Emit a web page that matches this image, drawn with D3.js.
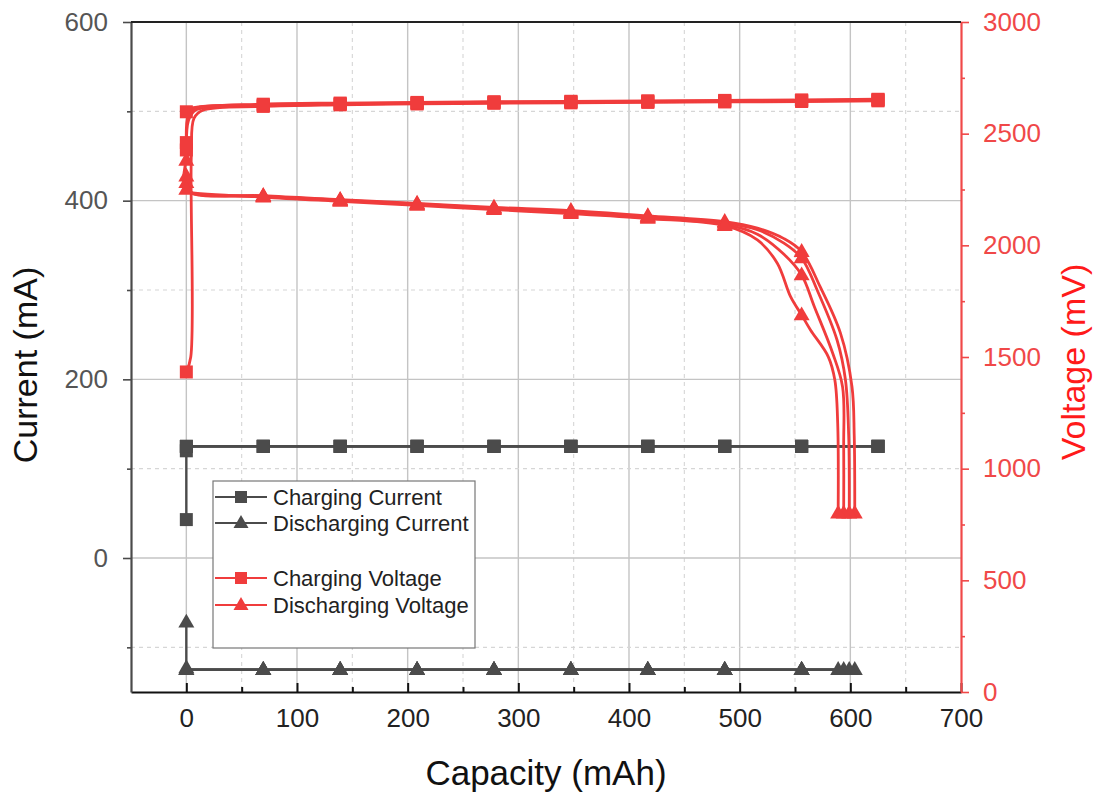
<!DOCTYPE html>
<html>
<head>
<meta charset="utf-8">
<script src="https://cdn.jsdelivr.net/npm/d3@7"></script>
<style>
  body { margin: 0; background: #fff; }
  svg { display: block; font-family: Arial, "Liberation Sans", sans-serif; }
</style>
</head>
<body>
<div id="chart-area"></div>
<script>
// plot box in page pixels
const MARGIN = { LEFT: 131, RIGHT: 139, TOP: 22, BOTTOM: 104 }
const W = 1100, H = 796

// tick values
const xMajorTicks = [0, 100, 200, 300, 400, 500, 600, 700]
const xMinorTicks = [50, 150, 250, 350, 450, 550, 650]
const currentTicks = [0, 200, 400, 600]
const currentMinorTicks = [-100, 100, 300, 500]
const voltageTicks = [0, 500, 1000, 1500, 2000, 2500, 3000]
const voltageMinorTicks = [250, 750, 1250, 1750, 2250, 2750]

// [capacity mAh, value, marker shown]
// charging current (mA), four cycles
const chargeCurrent1 = [[0,43,1],[0,125,0],[69.5,125,1],[139,125,1],[208.5,125,1],[278,125,1],[347.5,125,1],[417,125,1],[486.5,125,1],[556,125,1],[625,125,1]]
const chargeCurrent2 = [[0,120,1],[0,125,0],[69.5,125,1],[139,125,1],[208.5,125,1],[278,125,1],[347.5,125,1],[417,125,1],[486.5,125,1],[556,125,1],[625,125,1]]
const chargeCurrent3 = [[0,125,1],[69.5,125,1],[139,125,1],[208.5,125,1],[278,125,1],[347.5,125,1],[417,125,1],[486.5,125,1],[556,125,1],[625,125,1]]
const chargeCurrent4 = [[0,125,1],[69.5,125,1],[139,125,1],[208.5,125,1],[278,125,1],[347.5,125,1],[417,125,1],[486.5,125,1],[556,125,1],[625,125,1]]

// discharging current (mA)
const dischargeCurrent1 = [[0,-72,1],[0,-125,0],[69.5,-125,1],[139,-125,1],[208.5,-125,1],[278,-125,1],[347.5,-125,1],[417,-125,1],[486.5,-125,1],[556,-125,1],[604,-125,1]]
const dischargeCurrent2 = [[0,-123,1],[0,-125,0],[69.5,-125,1],[139,-125,1],[208.5,-125,1],[278,-125,1],[347.5,-125,1],[417,-125,1],[486.5,-125,1],[556,-125,1],[599,-125,1]]
const dischargeCurrent3 = [[0,-125,1],[69.5,-125,1],[139,-125,1],[208.5,-125,1],[278,-125,1],[347.5,-125,1],[417,-125,1],[486.5,-125,1],[556,-125,1],[594,-125,1]]
const dischargeCurrent4 = [[0,-125,1],[69.5,-125,1],[139,-125,1],[208.5,-125,1],[278,-125,1],[347.5,-125,1],[417,-125,1],[486.5,-125,1],[556,-125,1],[589,-125,1]]

// charging voltage (mV)
const chargeVoltage1 = [[0,1433,1],[4,1500,0],[4.5,2400,0],[7,2570,0],[15,2605,0],[69.5,2622,1],[139,2629,1],[208.5,2633,1],[278,2636,1],[347.5,2638,1],[417,2640,1],[486.5,2642,1],[556,2644,1],[625,2647,1]]
const chargeVoltage2 = [[0,2427,1],[2,2560,0],[8,2605,0],[20,2616,0],[69.5,2626,1],[139,2632,1],[208.5,2636,1],[278,2639,1],[347.5,2641,1],[417,2643,1],[486.5,2645,1],[556,2647,1],[625,2650,1]]
const chargeVoltage3 = [[0,2460,1],[1.5,2580,0],[6,2610,0],[69.5,2629,1],[139,2634,1],[208.5,2638,1],[278,2641,1],[347.5,2643,1],[417,2645,1],[486.5,2647,1],[556,2649,1],[625,2652,1]]
const chargeVoltage4 = [[0,2598,1],[3,2612,0],[69.5,2632,1],[139,2637,1],[208.5,2640,1],[278,2643,1],[347.5,2645,1],[417,2647,1],[486.5,2649,1],[556,2651,1],[625,2654,1]]

// discharging voltage (mV)
const dischargeVoltage1 = [[0,2380,1],[0,2248,0],[69.5,2222,1],[139,2205,1],[208.5,2188,1],[278,2170,1],[347.5,2155,1],[417,2132,1],[486.5,2106,1],[516,2077,0],[540,2030,0],[556,1972,1],[572.7,1815,0],[591,1608,0],[601.5,1367,0],[603.5,1150,0],[604,800,1]]
const dischargeVoltage2 = [[0,2310,1],[0,2246,0],[69.5,2220,1],[139,2202,1],[208.5,2185,1],[278,2167,1],[347.5,2150,1],[417,2128,1],[486.5,2100,1],[516,2070,0],[540,2010,0],[556,1943,1],[570,1800,0],[588,1576,0],[595.6,1397,0],[598.5,1150,0],[599,800,1]]
const dischargeVoltage3 = [[0,2280,1],[0,2244,0],[69.5,2218,1],[139,2200,1],[208.5,2182,1],[278,2164,1],[347.5,2146,1],[417,2124,1],[486.5,2094,1],[516,2050,0],[540,1960,0],[556,1867,1],[567.5,1725,0],[584,1518,0],[593,1366,0],[594,1100,0],[594,800,1]]
const dischargeVoltage4 = [[0,2250,1],[0,2242,0],[69.5,2216,1],[139,2197,1],[208.5,2179,1],[278,2160,1],[347.5,2142,1],[417,2120,1],[486.5,2088,1],[516,2024,0],[534,1920,0],[546,1770,0],[556,1688,1],[564,1621,0],[580,1502,0],[586,1397,0],[588.6,1200,0],[589,800,1]]

const legendLabels = ["Charging Current", "Discharging Current", "Charging Voltage", "Discharging Voltage"]

const GREY = "#4b4b4b"
const RED = "#f03c3c"

const svg = d3.select("#chart-area").append("svg")
  .attr("width", W)
  .attr("height", H)

// scales
const x = d3.scaleLinear().domain([-50, 700]).range([MARGIN.LEFT, W - MARGIN.RIGHT])
const yCur = d3.scaleLinear().domain([-150, 600]).range([H - MARGIN.BOTTOM, MARGIN.TOP])
const yVol = d3.scaleLinear().domain([0, 3000]).range([H - MARGIN.BOTTOM, MARGIN.TOP])

const plotTop = MARGIN.TOP, plotBottom = H - MARGIN.BOTTOM
const plotLeft = MARGIN.LEFT, plotRight = W - MARGIN.RIGHT

// grid
const grid = svg.append("g")
grid.selectAll(".vmaj").data(xMajorTicks.filter(d => d < 700)).enter().append("line")
  .attr("x1", d => x(d)).attr("x2", d => x(d)).attr("y1", plotTop).attr("y2", plotBottom)
  .attr("stroke", "#c4c4c4").attr("stroke-width", 1.4)
grid.selectAll(".vmin").data(xMinorTicks).enter().append("line")
  .attr("x1", d => x(d)).attr("x2", d => x(d)).attr("y1", plotTop).attr("y2", plotBottom)
  .attr("stroke", "#d6d6d6").attr("stroke-width", 1.1).attr("stroke-dasharray", "4,4")
grid.selectAll(".hmaj").data(currentTicks.filter(d => d < 600)).enter().append("line")
  .attr("x1", plotLeft).attr("x2", plotRight).attr("y1", d => yCur(d)).attr("y2", d => yCur(d))
  .attr("stroke", "#c4c4c4").attr("stroke-width", 1.4)
grid.selectAll(".hmin").data(currentMinorTicks).enter().append("line")
  .attr("x1", plotLeft).attr("x2", plotRight).attr("y1", d => yCur(d)).attr("y2", d => yCur(d))
  .attr("stroke", "#d6d6d6").attr("stroke-width", 1.1).attr("stroke-dasharray", "4,4")

// marker paths
function square(s) { return `M${-s/2},${-s/2}h${s}v${s}h${-s}Z` }
function triangle(w) {
  const h = w * 0.87
  return `M0,${-h*0.62}L${w/2},${h*0.38}L${-w/2},${h*0.38}Z`
}

const lineCur = d3.line().x(d => x(d[0])).y(d => yCur(d[1]))
const lineVol = d3.line().x(d => x(d[0])).y(d => yVol(d[1])).curve(d3.curveCatmullRom.alpha(0.5))

const series = [
  { data: [chargeCurrent1, chargeCurrent2, chargeCurrent3, chargeCurrent4], y: yCur, line: lineCur, color: GREY, shape: square(13), width: 2.4 },
  { data: [dischargeCurrent1, dischargeCurrent2, dischargeCurrent3, dischargeCurrent4], y: yCur, line: lineCur, color: GREY, shape: triangle(16), width: 2.4 },
  { data: [chargeVoltage1, chargeVoltage2, chargeVoltage3, chargeVoltage4], y: yVol, line: lineVol, color: RED, shape: square(13), width: 2.8 },
  { data: [dischargeVoltage1, dischargeVoltage2, dischargeVoltage3, dischargeVoltage4], y: yVol, line: lineVol, color: RED, shape: triangle(16), width: 2.8 }
]

const plot = svg.append("g")
series.forEach(s => {
  s.data.forEach(cycle => {
    plot.append("path")
      .attr("d", s.line(cycle))
      .attr("fill", "none")
      .attr("stroke", s.color)
      .attr("stroke-width", s.width)
      .attr("stroke-linejoin", "round")
  })
})
series.forEach(s => {
  s.data.forEach(cycle => {
    plot.selectAll(null).data(cycle.filter(d => d[2])).enter().append("path")
      .attr("d", s.shape)
      .attr("transform", d => `translate(${x(d[0])},${s.y(d[1])})`)
      .attr("fill", s.color)
  })
})

// axes
const xAxis = svg.append("g").attr("transform", `translate(0,${plotBottom})`)
  .call(d3.axisBottom(x).tickValues(xMajorTicks).tickSizeInner(-9).tickSizeOuter(0).tickPadding(17))
const xMinor = svg.append("g").attr("transform", `translate(0,${plotBottom})`)
  .call(d3.axisBottom(x).tickValues(xMinorTicks).tickSizeInner(-5).tickSizeOuter(0).tickFormat(""))
xAxis.select(".domain").attr("stroke", "#111").attr("stroke-width", 2.2)
xMinor.select(".domain").remove()
xAxis.selectAll(".tick line").attr("stroke", "#111").attr("stroke-width", 2)
xMinor.selectAll(".tick line").attr("stroke", "#111").attr("stroke-width", 2)
xAxis.selectAll("text").attr("font-size", 26).attr("fill", "#222")

const yAxisL = svg.append("g").attr("transform", `translate(${plotLeft},0)`)
  .call(d3.axisLeft(yCur).tickValues(currentTicks).tickSizeInner(8).tickSizeOuter(0).tickPadding(15))
const yMinorL = svg.append("g").attr("transform", `translate(${plotLeft},0)`)
  .call(d3.axisLeft(yCur).tickValues(currentMinorTicks).tickSizeInner(4).tickSizeOuter(0).tickFormat(""))
yAxisL.select(".domain").attr("stroke", "#4a4a4a").attr("stroke-width", 2.2)
yMinorL.select(".domain").remove()
yAxisL.selectAll(".tick line").attr("stroke", "#4a4a4a").attr("stroke-width", 1.6)
yMinorL.selectAll(".tick line").attr("stroke", "#4a4a4a").attr("stroke-width", 1.6)
yAxisL.selectAll("text").attr("font-size", 26).attr("fill", "#555")

const yAxisR = svg.append("g").attr("transform", `translate(${plotRight},0)`)
  .call(d3.axisRight(yVol).tickValues(voltageTicks).tickFormat(d3.format("d")).tickSizeInner(8).tickSizeOuter(0).tickPadding(14))
const yMinorR = svg.append("g").attr("transform", `translate(${plotRight},0)`)
  .call(d3.axisRight(yVol).tickValues(voltageMinorTicks).tickSizeInner(4).tickSizeOuter(0).tickFormat(""))
yAxisR.select(".domain").attr("stroke", "#f04848").attr("stroke-width", 2.2)
yMinorR.select(".domain").remove()
yAxisR.selectAll(".tick line").attr("stroke", "#f04848").attr("stroke-width", 1.6)
yMinorR.selectAll(".tick line").attr("stroke", "#f04848").attr("stroke-width", 1.6)
yAxisR.selectAll("text").attr("font-size", 26).attr("fill", "#f04848")

// top frame line
svg.append("line")
  .attr("x1", plotLeft).attr("x2", plotRight).attr("y1", plotTop).attr("y2", plotTop)
  .attr("stroke", "#222").attr("stroke-width", 1.8)

// axis titles
svg.append("text")
  .attr("x", (plotLeft + plotRight) / 2).attr("y", 785)
  .attr("text-anchor", "middle").attr("font-size", 35).attr("fill", "#111")
  .text("Capacity (mAh)")
svg.append("text")
  .attr("transform", `translate(37,365) rotate(-90)`)
  .attr("text-anchor", "middle").attr("font-size", 34).attr("fill", "#111")
  .text("Current (mA)")
svg.append("text")
  .attr("transform", `translate(1085,362) rotate(-90)`)
  .attr("text-anchor", "middle").attr("font-size", 34).attr("fill", "#ff1a1a")
  .text("Voltage (mV)")

// legend
const legend = svg.append("g").attr("transform", "translate(213,481)")
legend.append("rect")
  .attr("width", 262).attr("height", 167)
  .attr("fill", "#fff").attr("stroke", "#777").attr("stroke-width", 1.2)
const legendRows = [
  { y: 16, color: GREY, shape: square(12) },
  { y: 42, color: GREY, shape: triangle(15) },
  { y: 97, color: RED, shape: square(12) },
  { y: 124, color: RED, shape: triangle(15) }
]
legendRows.forEach((r, i) => {
  legend.append("line")
    .attr("x1", 2).attr("x2", 54).attr("y1", r.y).attr("y2", r.y)
    .attr("stroke", r.color).attr("stroke-width", 2.2)
  legend.append("path")
    .attr("d", r.shape)
    .attr("transform", `translate(28,${r.y})`)
    .attr("fill", r.color)
  legend.append("text")
    .attr("x", 60).attr("y", r.y).attr("dy", "0.35em")
    .attr("font-size", 22).attr("fill", "#222")
    .text(legendLabels[i])
})
</script>
</body>
</html>
